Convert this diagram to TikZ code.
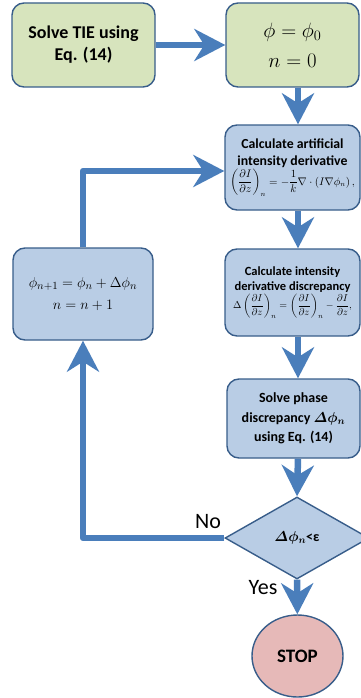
\documentclass[tikz,border=0pt]{standalone}
\usepackage{amsmath}
\usepackage{fontspec}
\setmainfont{Carlito}
\usetikzlibrary{arrows.meta,shapes.geometric}

\definecolor{boxgreen}{HTML}{D7E4BD}
\definecolor{boxblue}{HTML}{B9CDE5}
\definecolor{boxpink}{HTML}{E6B9B8}
\definecolor{edgeblue}{HTML}{385D8A}
\definecolor{flowblue}{HTML}{4A7EBB}

\newcommand{\dIdz}{\frac{\partial I}{\partial z}}

\begin{document}
\begin{tikzpicture}[x=1pt, y=-1pt,
  >={Stealth[length=31pt, width=32pt, inset=10pt]},
  block/.style={draw=edgeblue, line width=1.4pt, rounded corners=12pt, fill=boxblue,
    align=center, inner sep=2pt, minimum width=135pt, minimum height=85pt},
  start/.style={block, fill=boxgreen},
  test/.style={diamond, draw=edgeblue, line width=1.4pt, fill=boxblue, aspect=1.76,
    inner sep=0pt, minimum width=144pt, minimum height=82pt},
  halt/.style={ellipse, draw=edgeblue, line width=1.4pt, fill=boxpink,
    minimum width=91pt, minimum height=82pt},
  flow/.style={draw=flowblue, line width=6.5pt, line join=round, ->},
  lab/.style={font=\fontsize{22}{24}\selectfont, inner sep=1pt}]
\useasboundingbox (0,0) rectangle (361,698);
\coordinate (spine) at (298,0);
% boxes
\node[start, minimum width=143pt, minimum height=84pt, font=\bfseries\fontsize{18}{22}\selectfont]
  (tie) at (83.5,45) {Solve TIE using\\Eq. (14)};
\node[start, minimum width=133pt, minimum height=84pt, font=\fontsize{19.5}{24}\selectfont]
  (init) at (292.5,45) {$\phi=\phi_0$\\[6pt]$n=0$};
\node[block, font=\bfseries\fontsize{13.8}{16.5}\selectfont] (art) at (292.5,167.5)
  {Calculate artificial\\intensity derivative\\[1pt]
   \mdseries\fontsize{10.6}{12}\selectfont
   $\displaystyle\left(\dIdz\right)_{n}=-\frac{1}{k}\nabla\cdot\left(I\nabla\phi_n\right),$};
\node[block, minimum height=87pt, font=\bfseries\fontsize{12.5}{15}\selectfont] (drv) at (292.5,292.5)
  {Calculate intensity\\derivative discrepancy\\[1pt]
   \mdseries\fontsize{10}{12}\selectfont
   $\displaystyle\Delta\left(\dIdz\right)_{n}=\left(\dIdz\right)_{n}-\dIdz,$};
\node[block, minimum width=133pt, minimum height=79pt, font=\bfseries\fontsize{14}{19.5}\selectfont]
  (sol) at (293.5,418.5) {Solve phase\\discrepancy $\boldsymbol{\varDelta\phi_n}$\\using Eq. (14)};
\node[block, minimum width=140pt, minimum height=92pt, font=\fontsize{15.5}{22}\selectfont]
  (upd) at (83,294) {$\phi_{n+1}=\phi_n+\Delta\phi_n$\\$n=n+1$};
\node[test, font=\bfseries\fontsize{14}{16}\selectfont] (chk) at (297,538)
  {$\boldsymbol{\varDelta\phi_n}$<ε};
\node[halt, font=\bfseries\fontsize{19}{22}\selectfont] (stop) at (297.5,656) {STOP};
% labels
\node[lab] (no) at (208,522) {No};
\node[lab] (yes) at (263,588) {Yes};
% connectors
\draw[flow] (tie) -- (init);
\draw[flow] (init.south -| spine) -- (art.north -| spine);
\draw[flow] (art.south -| spine) -- (drv.north -| spine);
\draw[flow] (drv.south -| spine) -- (sol.north -| spine);
\draw[flow] (sol.south -| spine) -- (chk.north);
\draw[flow] (chk) -- (stop);
\draw[flow] (chk.west) -| (upd.south);
\draw[flow] (upd.north) |- ([yshift=-3.5pt]art.west);
\end{tikzpicture}
\end{document}
